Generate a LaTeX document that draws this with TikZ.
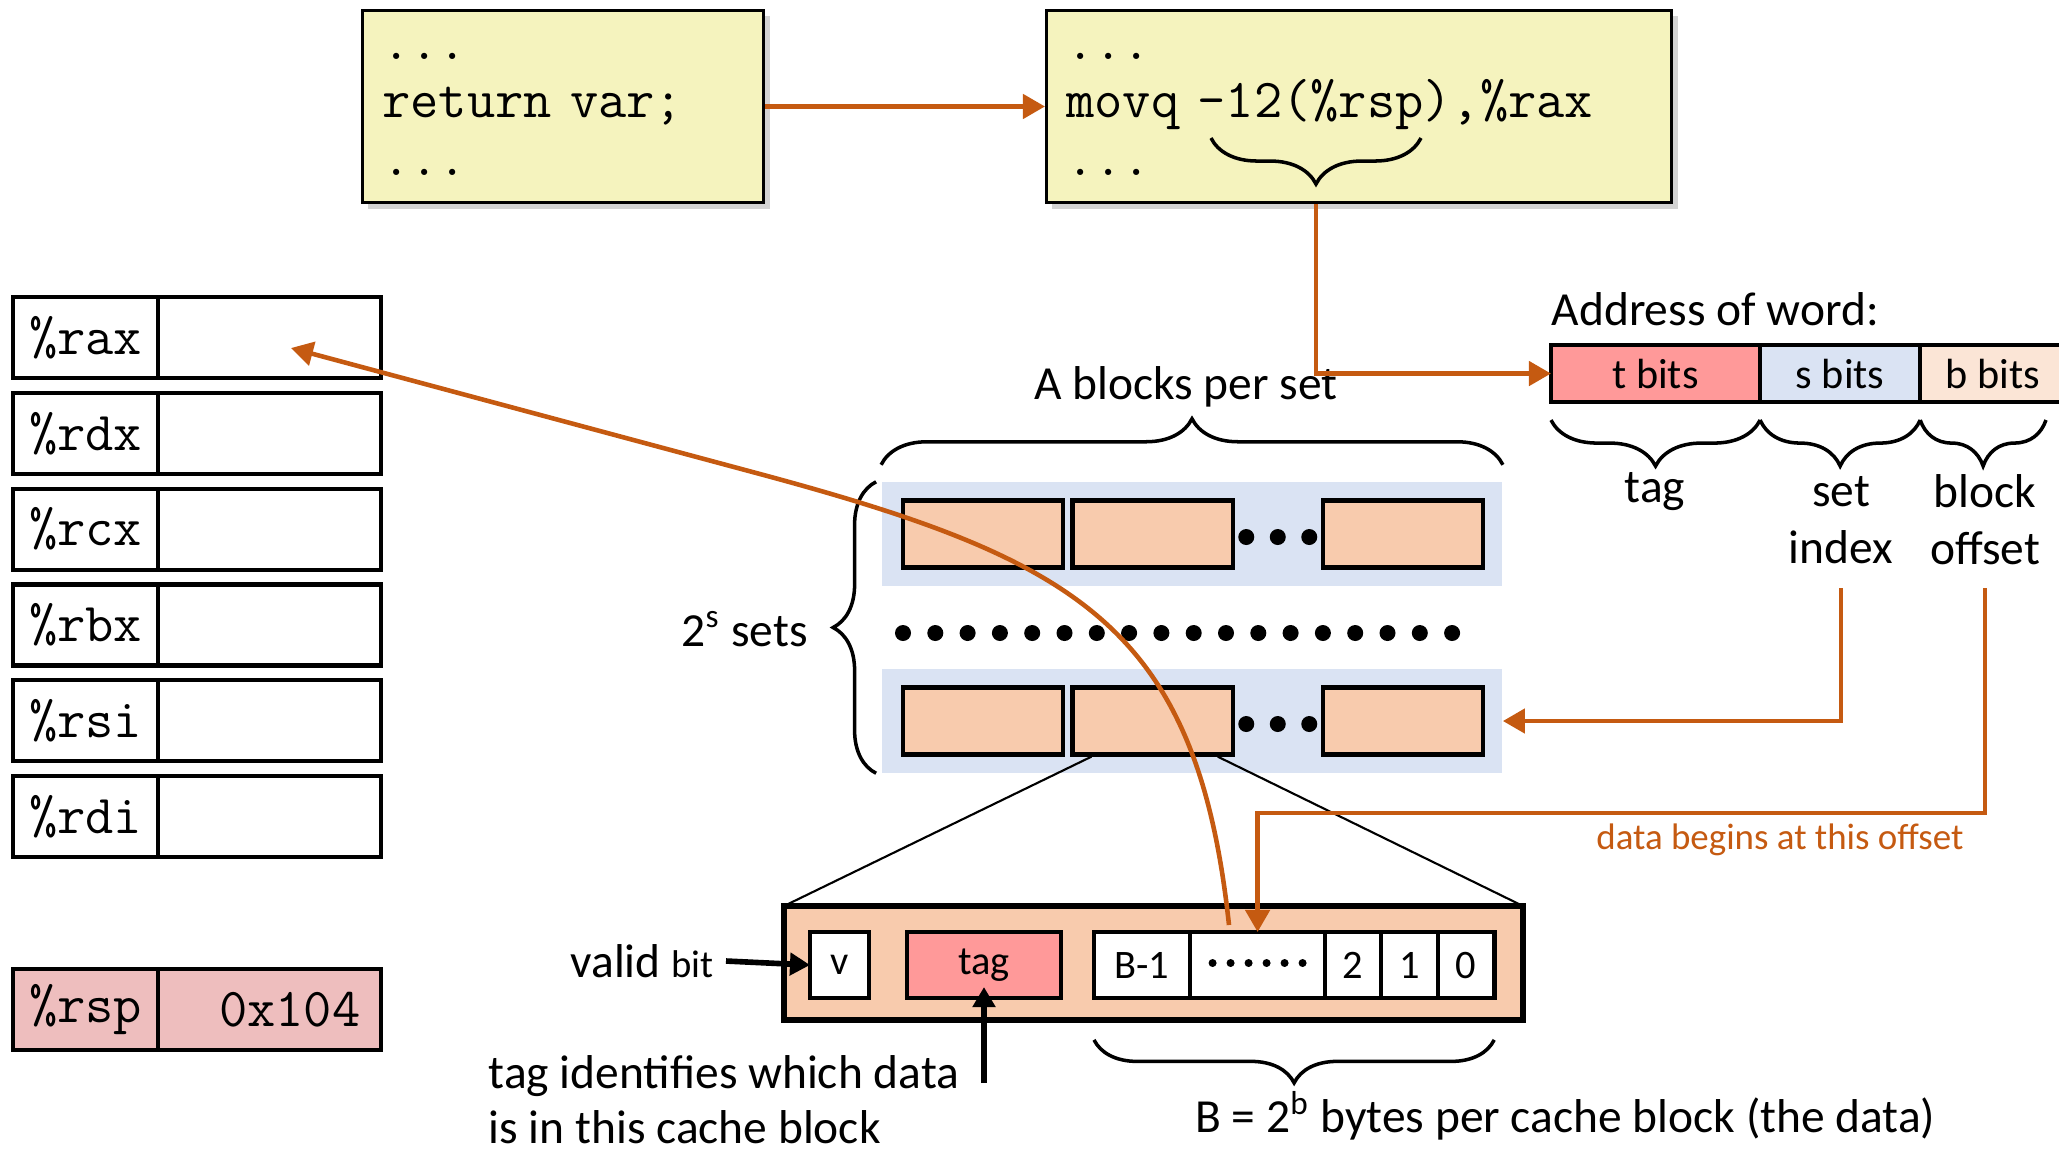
\documentclass[tikz,border=0pt]{standalone}
\usepackage{fontspec}
\setmainfont{Carlito}
\usepackage{xcolor}
\usetikzlibrary{arrows.meta, positioning, decorations.pathreplacing, shadows, calc}

\definecolor{codefill}{RGB}{245,243,190}
\definecolor{linkorange}{RGB}{197,90,17}
\definecolor{setfill}{RGB}{218,227,243}
\definecolor{blockfill}{RGB}{248,203,173}
\definecolor{tagfill}{RGB}{255,153,153}
\definecolor{offfill}{RGB}{251,229,214}
\definecolor{rspfill}{RGB}{238,190,190}

\begin{document}
\begin{tikzpicture}[
  x=0.01cm, y=-0.01cm,
  font=\fontsize{13.5}{16.2}\selectfont,
  codebox/.style={draw, line width=0.8pt, fill=codefill, anchor=north west,
    drop shadow={shadow xshift=0.06cm, shadow yshift=-0.06cm, opacity=0.35},
    align=left, inner xsep=0.2cm, minimum height=1.92cm,
    font=\ttfamily\fontsize{15.6}{16.5}\selectfont},
  reglbl/.style={draw, line width=1.2pt, anchor=north west, outer sep=0pt,
    minimum width=1.45cm, minimum height=0.81cm,
    font=\ttfamily\fontsize{15.6}{16}\selectfont},
  regval/.style={reglbl, minimum width=2.23cm},
  field/.style={draw, line width=1pt, outer sep=0pt, minimum height=0.57cm,
    font=\fontsize{12}{14}\selectfont},
  setrow/.style={fill=setfill, minimum width=6.2cm, minimum height=1.03cm},
  blk/.style={draw, line width=1.2pt, fill=blockfill, minimum width=1.6cm, minimum height=0.67cm},
  cell/.style={draw, line width=1.3pt, fill=white, outer sep=0pt, minimum height=0.66cm,
    font=\fontsize{11.5}{13}\selectfont},
  link/.style={draw=linkorange, line width=1.3pt, -{Triangle[length=0.22cm, width=0.24cm]}},
  pointer/.style={line width=1.6pt, -{Triangle[length=0.2cm, width=0.22cm]}},
  curly/.style={decorate, line width=1pt, decoration={brace, amplitude=0.46cm}},
  ucurly/.style={decorate, line width=1pt, decoration={brace, mirror, amplitude=0.46cm}}
]
\useasboundingbox (0,0) rectangle (2059,1150);

% code boxes
\node[codebox, text width=3.61cm] (code1) at (361,9) {\rule{0pt}{6pt}...\\return var;\\...};
\node[codebox, text width=5.85cm] (code2) at (1045,9) {\rule{0pt}{6pt}...\\movq -12(\%rsp),\%rax\\...};
\draw[ucurly] (1211,138) -- (1421,138) coordinate[midway] (brtip);

% registers
\foreach \r [count=\i from 0] in {rax,rdx,rcx,rbx,rsi,rdi} {
  \node[reglbl] (\r) at (13,{297+95.8*\i}) {\%\r};
  \node[regval, right=0pt of \r] (val\r) {};
}
\node[reglbl, fill=rspfill] (rsp) at (13,969) {\%rsp};
\node[regval, fill=rspfill, right=0pt of rsp] (valrsp) {\hspace*{0.4cm}0x104};
\coordinate (raxin) at (291,348);

% address of word
\node[field, fill=tagfill, anchor=north west, minimum width=2.09cm] (tf) at (1551,345) {t bits};
\node[field, fill=setfill, minimum width=1.6cm, right=0pt of tf] (sf) {s bits};
\node[field, fill=offfill, minimum width=1.45cm, right=0pt of sf] (bf) {b bits};
\node[anchor=south west, inner sep=0pt] (addr) at ([yshift=0.18cm]tf.north west) {Address of word:};
\draw[ucurly] ([yshift=-0.18cm]tf.south west) -- ([yshift=-0.18cm]tf.south east);
\draw[ucurly] ([yshift=-0.18cm]sf.south west) -- ([yshift=-0.18cm]sf.south east);
\draw[ucurly] ([yshift=-0.18cm]bf.south west) -- (2046,420);
\node (taglbl) at (1655,492) {tag};
\node[align=center] (setidx) at (1841,520) {set\\index};
\node[align=center] (blkoff) at (1985,520) {block\\offset};
\coordinate (idxfoot) at (1841,588);
\coordinate (offfoot) at (1985,588);
\coordinate (offturn) at (1985,813);

% cache sets
\node[setrow] (set1) at (1192,534) {};
\node[setrow] (set2) at (1192,721) {};
\foreach \s in {1,2} {
  \node[blk, right=0.2cm of set\s.west] (b\s1) {};
  \node[blk, right=0.05cm of b\s1] (b\s2) {};
  \node[blk, right=0.86cm of b\s2] (b\s3) {};
  \foreach \d in {-1,0,1}
    \fill ($($(b\s2.east)!0.5!(b\s3.west)$)+({31.5*\d},3)$) circle [radius=0.08cm];
}
\foreach \i in {0,...,17}
  \fill ({903+32.3*\i},633) circle [radius=0.08cm];
\draw[curly] ([yshift=0.17cm]set1.north west) -- ([yshift=0.17cm]set1.north east);
\node (ablk) at (1186,387) {A blocks per set};
\draw[curly, decoration={amplitude=0.43cm}] ([xshift=-0.05cm]set2.south west) -- ([xshift=-0.05cm]set1.north west);
\node[anchor=east] (nsets) at (820,629) {2\textsuperscript{s} sets};

% one cache block
\draw[line width=0.6pt] ([xshift=0.21cm]b22.south west) -- (784,906) coordinate (cbnw);
\draw[line width=0.6pt] ([xshift=-0.17cm]b22.south east) -- (1523,906) coordinate (cbne);
\node[draw, line width=1.6pt, fill=blockfill, minimum width=7.39cm, minimum height=1.14cm] (cb) at (1153.5,963) {};
\node[cell, minimum width=0.59cm] (vcell) at (839.5,965) {v};
\node[cell, fill=tagfill, minimum width=1.54cm] (tagcell) at (984,965) {tag};
\node[cell, minimum width=0.96cm, anchor=west] (bm1) at (1094,965) {B-1};
\node[cell, minimum width=1.35cm, right=0pt of bm1] (dots) {};
\node[cell, minimum width=0.56cm, right=0pt of dots] (c2) {2};
\node[cell, minimum width=0.57cm, right=0pt of c2] (c1) {1};
\node[cell, minimum width=0.56cm, right=0pt of c1] (c0) {0};
\foreach \i in {0,...,5}
  \fill ($(dots.center)+({-45+18*\i},-2)$) circle [radius=0.04cm];
\draw[ucurly, decoration={amplitude=0.43cm}] ([yshift=-0.17cm]bm1.south west |- cb.south) -- ([yshift=-0.17cm]c0.south east |- cb.south);
\node[anchor=west] (bsize) at (1183,1116) {B = 2\textsuperscript{b} bytes per cache block (the data)};

\node[anchor=east] (validlbl) at (726,961) {valid {\fontsize{11}{13}\selectfont bit}};
\draw[pointer] (validlbl.east) -- (vcell.west);
\coordinate (tagfoot) at (984,1083);
\draw[pointer] (tagfoot) -- ([yshift=-0.22cm]tagcell.center);
\node[anchor=north west, align=left, inner sep=0pt, font=\fontsize{13.5}{15.6}\selectfont] (tagnote) at (488,1055)
  {tag identifies which data\\is in this cache block};

% orange links
\draw[link] (code1.east) -- (code2.west);
\draw[link] (code2.south -| brtip) |- (tf.west);
\draw[link] (idxfoot) |- (set2.east);
\draw[link] (offfoot) -- (offturn) -| (dots.north);
\node[anchor=west, text=linkorange, font=\fontsize{10.5}{12}\selectfont] (offnote) at (1584,840) {data begins at this offset};
\coordinate (curvestart) at (1229,925);
\draw[link] (curvestart) .. controls (1197,627) and (1079,560) .. (760,474) -- (raxin);

\end{tikzpicture}
\end{document}
